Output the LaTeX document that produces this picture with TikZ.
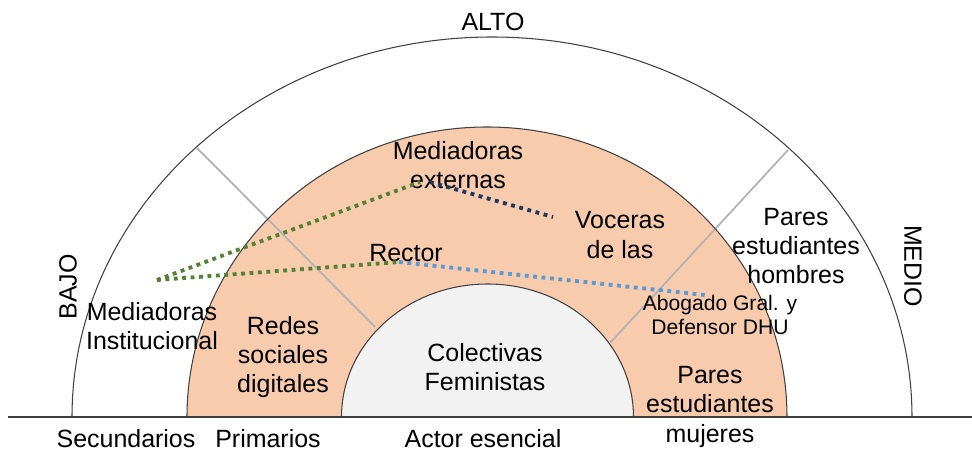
\documentclass[tikz,border=0pt]{standalone}
\usepackage{fontspec}
\setmainfont{Liberation Sans}
\usetikzlibrary{positioning}
\definecolor{peach}{HTML}{F8CBAD}
\definecolor{core}{HTML}{F2F2F2}
\definecolor{dgreen}{HTML}{548235}
\definecolor{navy}{HTML}{203864}
\definecolor{lblue}{HTML}{5B9BD5}
\begin{document}
\begin{tikzpicture}[x=0.2mm,y=0.2mm,
                       lbl/.style={align=center,inner sep=0pt,
                                   font=\fontsize{14.2}{16.6}\selectfont},
                       small lbl/.style={align=center,inner sep=0pt,
                                   font=\fontsize{12}{14}\selectfont},
                       ring/.style={draw=black!75,line width=0.6pt},
                       divider/.style={draw=black!30,line width=1pt},
                       dots/.style={line width=2.2pt,dash pattern=on 2.2pt off 2.6pt}
                      ]
   \useasboundingbox (0,0) rectangle (972,452);
   % filled rings
   \fill[peach] (187,35) arc[start angle=180,end angle=0,x radius=300,y radius=290] -- cycle;
   \fill[core] (341.5,35) arc[start angle=180,end angle=0,x radius=146,y radius=133] -- cycle;
   \draw[divider] (197,304) -- (375,125);
   \draw[divider] (788,302) -- (610,109);
   \draw[ring] (72,35) arc[start angle=180,end angle=0,x radius=420,y radius=380];
   \draw[ring] (187,35) arc[start angle=180,end angle=0,x radius=300,y radius=290];
   \draw[ring] (341.5,35) arc[start angle=180,end angle=0,x radius=146,y radius=133];
   \draw[ring] (8,35) -- (972,35);
   % labels
   \node[lbl] (alto) at (493,430) {ALTO};
   \node[lbl,rotate=90] (bajo) at (68,165) {BAJO};
   \node[lbl,rotate=-90] (medio) at (913,186) {MEDIO};
   \node[lbl] (inst) at (152,126) {Mediadoras\\Institucional};
   \node[lbl] (redes) at (283,95) {Redes\\sociales\\digitales};
   \node[lbl] (colect) at (485,85) {Colectivas\\Feministas};
   \node[lbl] (mujeres) at (710,45) {Pares\\estudiantes\\mujeres};
   \node[lbl] (hombres) at (796,206) {Pares\\estudiantes\\hombres};
   \node[small lbl] (abogado) at (720,137) {Abogado Gral. y\\Defensor DHU};
   \node[lbl] (voceras) at (620,217) {Voceras\\de las};
   \node[lbl] (rector) at (406,199) {Rector};
   \node[lbl] (externas) at (458,287) {Mediadoras\\externas};
   \node[lbl] (secund) at (126,13) {Secundarios};
   \node[lbl] (prim) at (268,13) {Primarios};
   \node[lbl] (esencial) at (483,13) {Actor esencial};
   % dotted links
   \coordinate (g0) at (157,172);
   \coordinate (g1) at (420,270);
   \coordinate (g2) at (399,190);
   \coordinate (n0) at (430,270);
   \coordinate (n1) at (553,235);
   \coordinate (b1) at (705,157);
   \path
    (g0) edge[dots,dgreen] (g1)
    (g0) edge[dots,dgreen] (g2)
    (n0) edge[dots,navy] (n1)
    (g2) edge[dots,lblue] (b1);
  \end{tikzpicture}
\end{document}
